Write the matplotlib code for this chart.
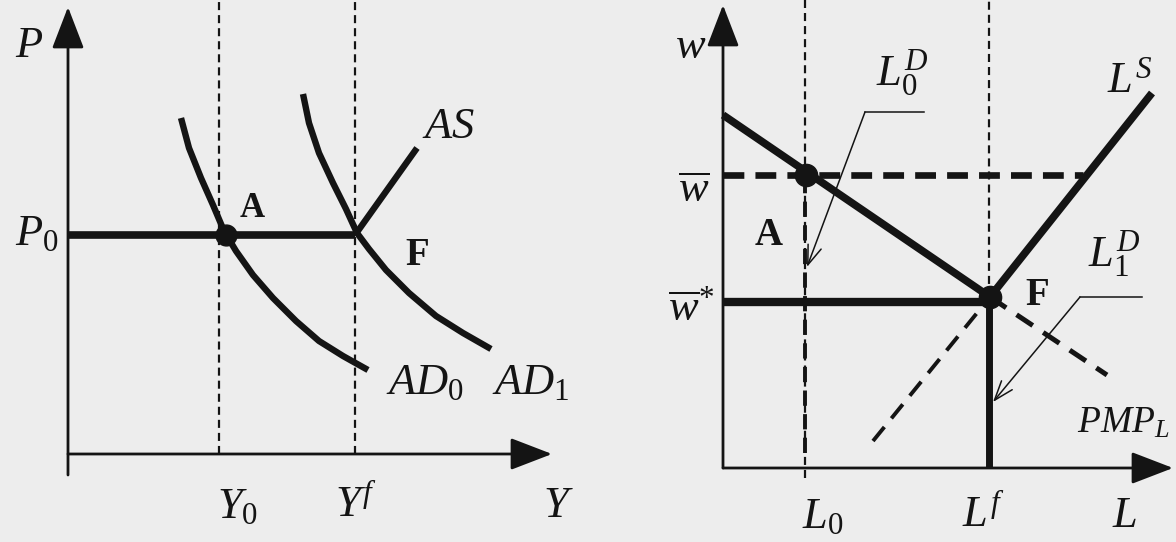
import matplotlib
matplotlib.use('Agg')
import matplotlib.pyplot as plt

plt.rcParams['font.family'] = ['Liberation Serif', 'DejaVu Serif']
plt.rcParams['mathtext.fontset'] = 'custom'
plt.rcParams['mathtext.rm'] = 'Liberation Serif'
plt.rcParams['mathtext.it'] = 'Liberation Serif:italic'
plt.rcParams['mathtext.bf'] = 'Liberation Serif:bold'
plt.rcParams['lines.scale_dashes'] = False

INK = '#141414'
BG = '#ededed'

# ---------------- left panel data (AD-AS) ----------------
P0 = 21.9
Y0 = 15.1
Yf = 28.7
A_left = (15.8, 21.9)
AS_x = [28.7, 34.9]
AS_y = [21.9, 30.6]
AD0_x = [11.3, 12.1, 13.3, 14.5, 15.6, 16.8, 18.5, 20.5, 22.8, 25.1, 27.5, 30.0]
AD0_y = [33.6, 30.6, 27.6, 24.9, 22.3, 20.3, 17.9, 15.6, 13.3, 11.3, 9.8, 8.4]
AD1_x = [23.5, 24.1, 25.1, 26.5, 27.8, 28.9, 30.1, 31.8, 34.1, 36.8, 39.5, 42.3]
AD1_y = [36.0, 33.1, 30.1, 27.1, 24.5, 22.1, 20.5, 18.4, 16.1, 13.8, 12.1, 10.5]
left_x_tip = 48.4
left_y_tip = 44.7
left_axis_bottom = -2.1
left_top = 45.4

# ---------------- right panel data (labour market) ----------------
w_bar = 29.3
w_star = 16.6
L0 = 8.2
Lf = 26.6
A_right = (8.3, 29.3)
F_right = (26.7, 17.1)
LD_x = [0.0, 26.7]
LD_y = [35.3, 17.1]
PMP_x = [26.7, 38.4]
PMP_y = [17.1, 9.3]
LS_x = [26.7, 42.9]
LS_y = [17.1, 37.5]
LSext_x = [15.0, 26.7]
LSext_y = [2.7, 17.1]
w_bar_end = 36.0
right_x_tip = 45.0
right_y_tip = 46.3
right_top = 46.8

fig = plt.figure(figsize=(11.76, 5.42), dpi=100, facecolor=BG)
ax1 = fig.add_axes([0, 0, 0.5, 1])
ax2 = fig.add_axes([0.5, 0, 0.5, 1])
ax1.set_xlim(-6.8, 52.0)
ax1.set_ylim(-8.8, 45.4)
ax2.set_xlim(-13.5, 45.3)
ax2.set_ylim(-7.4, 46.8)
for ax in (ax1, ax2):
    ax.axis('off')
    ax.patch.set_alpha(0)


def axis_arrow(ax, start, tip):
    ax.annotate('', xy=tip, xytext=start,
                arrowprops=dict(arrowstyle='-|>,head_length=1.3,head_width=0.5',
                                mutation_scale=20, lw=2.0, color=INK,
                                shrinkA=0, shrinkB=0), annotation_clip=False)


thin_dash = (0, (5.8, 3.6))
tfs = 32  # variable label size
vis = dict(color=INK, ha='left', va='baseline', fontsize=tfs)
pts = dict(color=INK, ha='left', va='baseline', fontweight='bold')
curve_kw = dict(color=INK, lw=4.6, solid_joinstyle='round', solid_capstyle='butt')

# ---- left ----
axis_arrow(ax1, (0, left_axis_bottom), (0, left_y_tip))
axis_arrow(ax1, (0, 0), (left_x_tip, 0))
ax1.plot([Y0, Y0], [0, left_top], color=INK, lw=1.6, linestyle=thin_dash)
ax1.plot([Yf, Yf], [0, left_top], color=INK, lw=1.6, linestyle=thin_dash)
ax1.plot([0, Yf], [P0, P0], color=INK, lw=5.5, solid_capstyle='butt')
ax1.plot(AS_x, AS_y, **curve_kw)
ax1.plot(AD0_x, AD0_y, **curve_kw)
ax1.plot(AD1_x, AD1_y, **curve_kw)
ax1.plot([A_left[0]], [A_left[1]], 'o', color=INK, markersize=15)

ax1.text(-5.3, 39.7, '$P$', **vis)
ax1.text(-5.3, 20.9, '$P_0$', **vis)
ax1.text(17.2, 23.7, 'A', fontsize=25, **pts)
ax1.text(35.4, 31.6, '$AS$', **vis)
ax1.text(33.7, 18.9, 'F', fontsize=28, **pts)
ax1.text(31.8, 6.0, '$AD_0$', **vis)
ax1.text(42.4, 6.0, '$AD_1$', **vis)
ax1.text(14.9, -6.4, '$Y_0$', **vis)
ax1.text(26.7, -6.3, '$Y^f$', **vis)
ax1.text(47.5, -6.3, '$Y$', **vis)

# ---- right ----
axis_arrow(ax2, (0, 0), (0, right_y_tip))
axis_arrow(ax2, (0, 0), (right_x_tip, 0))
ax2.plot([L0, L0], [-1.0, right_top], color=INK, lw=1.6, linestyle=thin_dash)
ax2.plot([L0, L0], [1.5, w_bar], color=INK, lw=2.8, linestyle=(0, (11, 6)))
ax2.plot([Lf, Lf], [F_right[1], right_top], color=INK, lw=1.6, linestyle=thin_dash)
ax2.plot([Lf, Lf], [0, F_right[1]], color=INK, lw=5.0, solid_capstyle='butt')
ax2.plot([0, w_bar_end], [w_bar, w_bar], color=INK, lw=4.8, linestyle=(0, (15, 8)))
ax2.plot([0, Lf], [w_star, w_star], color=INK, lw=6.0, solid_capstyle='butt')
ax2.plot(LD_x, LD_y, color=INK, lw=5.5, solid_capstyle='butt')
ax2.plot(PMP_x, PMP_y, color=INK, lw=3.6, linestyle=(0, (14, 9)))
ax2.plot(LS_x, LS_y, color=INK, lw=5.5, solid_capstyle='butt')
ax2.plot(LSext_x, LSext_y, color=INK, lw=2.8, linestyle=(0, (13, 8)))
ax2.plot([A_right[0]], [A_right[1]], 'o', color=INK, markersize=16)
ax2.plot([F_right[0]], [F_right[1]], 'o', color=INK, markersize=16)

# leader lines
ax2.plot([20.1, 14.2], [35.6, 35.6], color=INK, lw=1.1)
ax2.annotate('', xy=(8.4, 20.1), xytext=(14.2, 35.6),
             arrowprops=dict(arrowstyle='->,head_length=0.7,head_width=0.25',
                             mutation_scale=20, lw=1.1, color=INK,
                             shrinkA=0, shrinkB=0))
ax2.plot([41.9, 35.7], [17.1, 17.1], color=INK, lw=1.1)
ax2.annotate('', xy=(27.0, 6.6), xytext=(35.7, 17.1),
             arrowprops=dict(arrowstyle='->,head_length=0.7,head_width=0.25',
                             mutation_scale=20, lw=1.1, color=INK,
                             shrinkA=0, shrinkB=0))

ax2.text(-4.8, 41.0, '$w$', **vis)
ax2.text(-4.5, 26.6, r'$\overline{w}$', **vis)
ax2.text(-5.5, 14.6, r'$\overline{w}^{*}$', **vis)
ax2.text(3.2, 22.3, 'A', fontsize=28, **pts)
ax2.text(15.3, 38.2, '$L_0^D$', **vis)
ax2.text(38.4, 37.6, '$L^S$', **vis)
ax2.text(30.2, 16.3, 'F', fontsize=28, **pts)
ax2.text(36.5, 20.1, '$L_1^D$', **vis)
ax2.text(35.4, 3.5, '$PMP_L$', color=INK, ha='left', va='baseline', fontsize=27)
ax2.text(7.9, -6.0, '$L_0$', **vis)
ax2.text(23.9, -5.9, '$L^f$', **vis)
ax2.text(38.9, -5.9, '$L$', **vis)

fig.savefig('out.png', dpi=100, facecolor=BG)
